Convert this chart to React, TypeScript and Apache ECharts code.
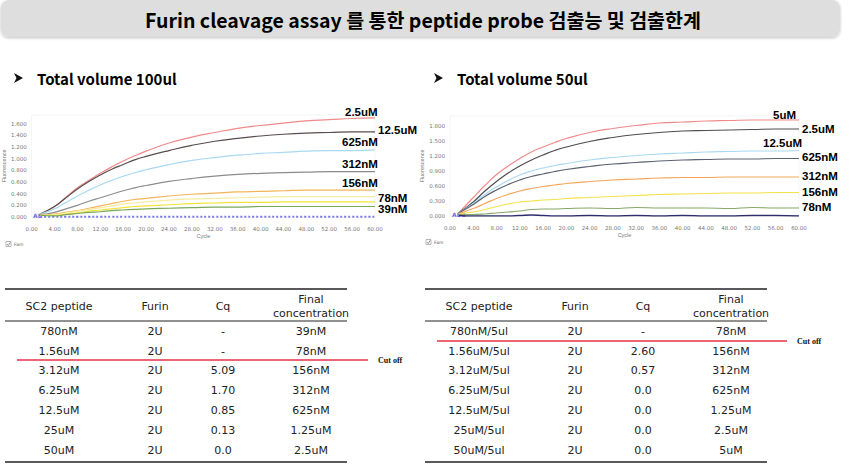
import React, { useEffect, useRef } from "react";
import * as echarts from "echarts";

// ---------- DATA ----------
const titleText = "Furin cleavage assay 를 통한 peptide probe 검출능 및 검출한계";
const subTitles = ["Total volume 100ul", "Total volume 50ul"];

const cycles = [1.5, 4, 6, 8, 10, 12, 14, 16, 18, 20, 24, 28, 32, 36, 40, 44, 48, 52, 56, 60];
const xTicks = [0, 60, 4];

// Left chart (100ul)
const leftNames = ["2.5uM", "12.5uM", "625nM", "312nM", "156nM", "", "78nM", "39nM", "NTC"];
const leftRed = [0.05, 0.18, 0.34, 0.5, 0.63, 0.75, 0.86, 0.96, 1.05, 1.13, 1.27, 1.37, 1.45, 1.52, 1.57, 1.61, 1.65, 1.67, 1.69, 1.7];
const leftDark = [0.05, 0.18, 0.33, 0.48, 0.61, 0.72, 0.82, 0.9, 0.98, 1.04, 1.14, 1.23, 1.3, 1.35, 1.39, 1.42, 1.44, 1.45, 1.46, 1.46];
const leftBlue = [0.05, 0.14, 0.25, 0.36, 0.46, 0.55, 0.63, 0.7, 0.76, 0.81, 0.9, 0.97, 1.02, 1.06, 1.09, 1.11, 1.13, 1.14, 1.14, 1.15];
const leftGray = [0.04, 0.08, 0.14, 0.2, 0.27, 0.33, 0.39, 0.45, 0.5, 0.54, 0.61, 0.66, 0.7, 0.73, 0.75, 0.76, 0.77, 0.78, 0.78, 0.78];
const leftOrange = [0.03, 0.05, 0.08, 0.11, 0.15, 0.19, 0.23, 0.27, 0.3, 0.32, 0.36, 0.39, 0.41, 0.43, 0.44, 0.45, 0.46, 0.46, 0.46, 0.46];
const leftPale = [0.03, 0.04, 0.07, 0.1, 0.13, 0.16, 0.19, 0.22, 0.24, 0.26, 0.29, 0.31, 0.32, 0.33, 0.34, 0.35, 0.35, 0.35, 0.35, 0.35];
const leftYellow = [0.03, 0.03, 0.05, 0.07, 0.1, 0.12, 0.14, 0.16, 0.18, 0.19, 0.21, 0.23, 0.24, 0.25, 0.25, 0.26, 0.26, 0.26, 0.26, 0.26];
const leftGreen = [0.03, 0.02, 0.04, 0.06, 0.08, 0.09, 0.11, 0.12, 0.13, 0.14, 0.15, 0.16, 0.17, 0.17, 0.18, 0.18, 0.18, 0.18, 0.18, 0.18];
const leftNtc = [0.005, 0.005, 0.005, 0.005, 0.005, 0.005, 0.005, 0.005, 0.005, 0.005, 0.005, 0.005, 0.005, 0.005, 0.005, 0.005, 0.005, 0.005, 0.005, 0.005];

// Right chart (50ul)
const rightNames = ["5uM", "2.5uM", "12.5uM", "625nM", "312nM", "156nM", "78nM", "NTC"];
const rightRed = [0.06, 0.37, 0.61, 0.83, 1.0, 1.15, 1.28, 1.38, 1.47, 1.55, 1.67, 1.75, 1.81, 1.86, 1.88, 1.9, 1.91, 1.92, 1.92, 1.92];
const rightDark = [0.06, 0.28, 0.5, 0.69, 0.86, 1.0, 1.12, 1.22, 1.31, 1.38, 1.49, 1.57, 1.63, 1.67, 1.7, 1.71, 1.72, 1.73, 1.74, 1.74];
const rightBlue = [0.06, 0.25, 0.43, 0.58, 0.71, 0.82, 0.9, 0.96, 1.01, 1.05, 1.12, 1.17, 1.21, 1.24, 1.26, 1.28, 1.29, 1.3, 1.3, 1.31];
const rightSlate = [0.06, 0.23, 0.39, 0.52, 0.63, 0.72, 0.79, 0.84, 0.89, 0.93, 0.99, 1.04, 1.07, 1.1, 1.12, 1.13, 1.14, 1.14, 1.15, 1.15];
const rightOrange = [0.05, 0.15, 0.25, 0.35, 0.43, 0.5, 0.55, 0.59, 0.62, 0.65, 0.69, 0.72, 0.74, 0.76, 0.77, 0.77, 0.78, 0.78, 0.78, 0.78];
const rightYellow = [0.04, 0.08, 0.13, 0.19, 0.24, 0.28, 0.3, 0.32, 0.33, 0.35, 0.37, 0.39, 0.41, 0.43, 0.44, 0.45, 0.46, 0.46, 0.47, 0.47];
const rightGreen = [0.03, 0.03, 0.04, 0.06, 0.08, 0.1, 0.13, 0.14, 0.14, 0.15, 0.16, 0.15, 0.17, 0.16, 0.16, 0.16, 0.15, 0.17, 0.16, 0.16];
const rightNtc = [0.01, 0.0, 0.0, 0.0, 0.0, 0.01, 0.02, 0.01, 0.0, 0.0, 0.01, 0.0, 0.01, 0.0, 0.01, 0.0, 0.0, 0.01, 0.01, 0.0];

// Tables
const tableHeaders = ["SC2 peptide", "Furin", "Cq", "Final\nconcentration"];
const leftPeptide = ["780nM", "1.56uM", "3.12uM", "6.25uM", "12.5uM", "25uM", "50uM"];
const leftFurin = ["2U", "2U", "2U", "2U", "2U", "2U", "2U"];
const leftCq = ["-", "-", "5.09", "1.70", "0.85", "0.13", "0.0"];
const leftFinal = ["39nM", "78nM", "156nM", "312nM", "625nM", "1.25uM", "2.5uM"];
const rightPeptide = ["780nM/5ul", "1.56uM/5ul", "3.12uM/5ul", "6.25uM/5ul", "12.5uM/5ul", "25uM/5ul", "50uM/5ul"];
const rightFurin = ["2U", "2U", "2U", "2U", "2U", "2U", "2U"];
const rightCq = ["-", "2.60", "0.57", "0.0", "0.0", "0.0", "0.0"];
const rightFinal = ["78nM", "156nM", "312nM", "625nM", "1.25uM", "2.5uM", "5uM"];
const cutOffText = "Cut off";
const famText = "Fam";

// ---------- STYLE / LAYOUT ----------
const leftColors = ["#f08a8a", "#5a4c4c", "#a9d8f2", "#8c8c8c", "#f3b45a", "#f7eca0", "#f2e23a", "#79a85a", "#7b7be8"];
const rightColors = ["#f08a8a", "#4e4e4e", "#a9d8f2", "#5d6270", "#f5a55a", "#f4e24a", "#86a868", "#2e2e6e"];

const leftLabelPos = [
  [345, 112], [378, 130], [342, 142], [342, 164], [342, 183], null, [378, 198], [378, 209], null,
];
const rightLabelPos = [
  [773, 115], [802, 129], [763, 143], [802, 157], [802, 176], [802, 192], [802, 207], null,
];

function pairs(vals: number[]) {
  return cycles.map((c, i) => [c, vals[i]]);
}

const TABLE_FONT = '11px Verdana, "DejaVu Sans", sans-serif';

function buildTable(
  x0: number,
  x1: number,
  cols: number[],
  cols0: string[][],
  cutY: number,
  cutX0: number,
  cutX1: number
) {
  const els: any[] = [];
  const font = TABLE_FONT;
  els.push({ type: "line", shape: { x1: x0, y1: 289, x2: x1, y2: 289 }, style: { stroke: "#222", lineWidth: 1.5 } });
  els.push({ type: "line", shape: { x1: x0, y1: 321, x2: x1, y2: 321 }, style: { stroke: "#222", lineWidth: 1 } });
  els.push({ type: "line", shape: { x1: x0, y1: 462, x2: x1, y2: 462 }, style: { stroke: "#222", lineWidth: 1.5 } });
  tableHeaders.forEach((h, i) => {
    els.push({
      type: "text",
      x: cols[i],
      y: 306,
      style: { text: h, font, fill: "#222", align: "center", verticalAlign: "middle", textAlign: "center", textVerticalAlign: "middle", lineHeight: 14 },
    });
  });
  const rowYs = [331, 351, 370, 390, 410, 430, 450];
  cols0.forEach((col, ci) => {
    col.forEach((v, ri) => {
      els.push({
        type: "text",
        x: cols[ci],
        y: rowYs[ri],
        style: { text: v, font, fill: "#222", align: "center", verticalAlign: "middle", textAlign: "center", textVerticalAlign: "middle" },
      });
    });
  });
  els.push({ type: "line", shape: { x1: cutX0, y1: cutY, x2: cutX1, y2: cutY }, style: { stroke: "#e8304a", lineWidth: 1.4 } });
  els.push({
    type: "text",
    x: cutX1 + 10,
    y: cutY,
    style: { text: cutOffText, font: 'bold 8px "Liberation Serif"', fill: "#111", align: "left", verticalAlign: "middle", textAlign: "left", textVerticalAlign: "middle" },
  });
  return els;
}

export default function App() {
  const ref = useRef<HTMLDivElement>(null);
  useEffect(() => {
    if (!ref.current) return;
    const chart = echarts.init(ref.current, undefined, { renderer: "svg" });

    const leftData = [leftRed, leftDark, leftBlue, leftGray, leftOrange, leftPale, leftYellow, leftGreen, leftNtc];
    const rightData = [rightRed, rightDark, rightBlue, rightSlate, rightOrange, rightYellow, rightGreen, rightNtc];

    const series: any[] = [];
    leftData.forEach((d, i) => {
      const isNtc = i === leftData.length - 1;
      series.push({
        type: "line",
        name: leftNames[i] || "other",
        xAxisIndex: 0,
        yAxisIndex: 0,
        data: pairs(d),
        smooth: true,
        showSymbol: false,
        lineStyle: { color: leftColors[i], width: isNtc ? 2 : 1.2, type: isNtc ? "dotted" : "solid" },
        z: isNtc ? 1 : 2,
      });
    });
    rightData.forEach((d, i) => {
      const isNtc = i === rightData.length - 1;
      series.push({
        type: "line",
        name: rightNames[i],
        xAxisIndex: 1,
        yAxisIndex: 1,
        data: pairs(d),
        smooth: true,
        showSymbol: false,
        lineStyle: { color: rightColors[i], width: isNtc ? 1.6 : 1.2 },
      });
    });

    const axisLabelStyle = { fontSize: 5.5, color: "#777", fontFamily: "DejaVu Sans" };
    const mkX = (idx: number) => ({
      type: "value",
      gridIndex: idx,
      min: xTicks[0],
      max: xTicks[1],
      interval: xTicks[2],
      name: "Cycle",
      nameLocation: "middle",
      nameGap: 12,
      nameTextStyle: { fontSize: 5.5, color: "#777" },
      axisLine: { show: false },
      axisTick: { show: false },
      splitLine: { show: false },
      axisLabel: { ...axisLabelStyle, margin: 9, formatter: (v: number) => v.toFixed(2) },
    });
    const mkY = (idx: number, max: number, interval: number) => ({
      type: "value",
      gridIndex: idx,
      min: 0,
      max,
      interval,
      name: "Fluorescence",
      nameLocation: "middle",
      nameGap: 22,
      nameRotate: 90,
      nameTextStyle: { fontSize: 5.5, color: "#777" },
      axisLine: { show: false },
      axisTick: { show: false },
      splitLine: { show: false },
      axisLabel: { ...axisLabelStyle, margin: 5, showMaxLabel: false, formatter: (v: number) => v.toFixed(3) },
    });

    const graphic: any[] = [];
    graphic.push({
      type: "rect",
      shape: { x: 1, y: 0, width: 839, height: 37, r: 8 },
      style: { fill: "#dedede", shadowBlur: 3, shadowColor: "rgba(0,0,0,0.25)", shadowOffsetY: 1 },
    });
    graphic.push({
      type: "text",
      x: 423,
      y: 19,
      style: { text: titleText, font: 'bold 19.5px "Noto Sans CJK KR"', fill: "#000", align: "center", verticalAlign: "middle", textAlign: "center", textVerticalAlign: "middle" },
    });
    [[14, 37], [434, 457]].forEach((p, i) => {
      // arrow-head bullet
      graphic.push({
        type: "polygon",
        shape: { points: [[p[0], 73], [p[0] + 9, 78], [p[0], 83], [p[0] + 2.5, 78]] },
        style: { fill: "#111" },
      });
      graphic.push({
        type: "text",
        x: p[1],
        y: 78,
        style: { text: subTitles[i], font: 'bold 15px "Noto Sans CJK KR"', fill: "#000", align: "left", verticalAlign: "middle", textAlign: "left", textVerticalAlign: "middle" },
      });
    });
    // series end labels
    const addLabels = (names: string[], pos: any[]) => {
      names.forEach((n, i) => {
        const p = pos[i];
        if (!p || !n) return;
        graphic.push({
          type: "text",
          x: p[0],
          y: p[1],
          style: { text: n, font: 'bold 11.5px "Liberation Sans"', fill: "#000", align: "left", verticalAlign: "middle", textAlign: "left", textVerticalAlign: "middle" },
        });
      });
    };
    addLabels(leftNames, leftLabelPos);
    addLabels(rightNames, rightLabelPos);
    // start markers & Fam checkboxes
    [[33, 215, "AB"], [452, 214, "ABB"]].forEach((m: any) => {
      graphic.push({
        type: "text",
        x: m[0],
        y: m[1],
        style: { text: m[2], font: 'bold 6px "DejaVu Sans"', fill: "#6a6ae0", align: "left", verticalAlign: "middle", textAlign: "left", textVerticalAlign: "middle" },
      });
    });
    [[6, 244], [426, 242]].forEach((p) => {
      graphic.push({ type: "rect", shape: { x: p[0], y: p[1] - 2.5, width: 5, height: 5 }, style: { fill: "#fff", stroke: "#888", lineWidth: 0.6 } });
      graphic.push({ type: "polyline", shape: { points: [[p[0] + 1, p[1]], [p[0] + 2.3, p[1] + 1.5], [p[0] + 4.2, p[1] - 1.6]] }, style: { stroke: "#555", lineWidth: 0.6, fill: null } });
      graphic.push({
        type: "text",
        x: p[0] + 8,
        y: p[1],
        style: { text: famText, font: '4.5px "DejaVu Sans"', fill: "#666", align: "left", verticalAlign: "middle", textAlign: "left", textVerticalAlign: "middle" },
      });
    });
    graphic.push(...buildTable(5, 347, [59, 155, 223, 311], [leftPeptide, leftFurin, leftCq, leftFinal], 360, 17, 368));
    graphic.push(...buildTable(425, 767, [479, 575, 643, 731], [rightPeptide, rightFurin, rightCq, rightFinal], 341, 437, 787));

    chart.setOption({
      animation: false,
      backgroundColor: "#fff",
      grid: [
        { left: 31, right: 490, top: 115, bottom: 248, show: true, borderColor: "#ececec", borderWidth: 0.6, backgroundColor: "transparent" },
        { left: 450, right: 66, top: 116, bottom: 249, show: true, borderColor: "#ececec", borderWidth: 0.6, backgroundColor: "transparent" },
      ],
      xAxis: [mkX(0), mkX(1)],
      yAxis: [mkY(0, 1.75, 0.2), mkY(1, 2.0, 0.3)],
      series,
      graphic,
    });
    return () => chart.dispose();
  }, []);
  return <div ref={ref} style={{ position: "fixed", left: 0, top: 0, width: 865, height: 465 }} />;
}
